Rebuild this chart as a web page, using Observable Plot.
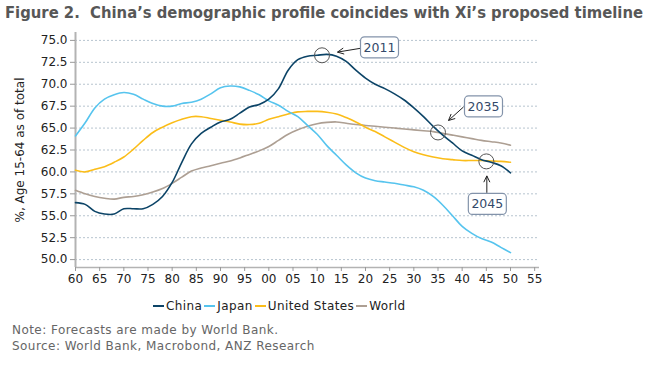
<!DOCTYPE html>
<html>
<head>
<meta charset="utf-8">
<script src="https://cdn.jsdelivr.net/npm/d3@7"></script>
<script src="https://cdn.jsdelivr.net/npm/@observablehq/plot@0.6"></script>
<style>
  body { margin: 0; background: #fff; font-family: "DejaVu Sans", Verdana, sans-serif; }
  #wrap { position: relative; width: 655px; height: 368px; overflow: hidden; background: #fff; }
  #title { position: absolute; left: 0; top: 0; }
  #chart { position: absolute; left: 0; top: 25px; }
  #legend { position: absolute; left: 153px; top: 298px; display: flex; align-items: center; font-size: 12px; color: #222; line-height: 16px; white-space: nowrap; letter-spacing: 0.4px; }
  .item { display: flex; align-items: center; margin-right: 2px; }
  .sw { width: 11px; height: 2px; margin-right: 2px; }
  #note { position: absolute; left: 12px; top: 322px; font-size: 12px; color: #666; line-height: 16px; letter-spacing: 0.45px; }
</style>
</head>
<body>
<div id="wrap">
  <svg id="title" width="655" height="25">
    <text x="5" y="18" style="white-space:pre" font-family="DejaVu Sans Condensed, DejaVu Sans, sans-serif" font-weight="bold" font-size="15" fill="#575757" textLength="638" lengthAdjust="spacingAndGlyphs">Figure 2.  China’s demographic profile coincides with Xi’s proposed timeline</text>
  </svg>
  <div id="chart"></div>
  <div id="legend"></div>
  <div id="note">Note: Forecasts are made by World Bank.<br>Source: World Bank, Macrobond, ANZ Research</div>
</div>
<script>
// ---------- data ----------
const years = [1960,1962,1964,1966,1968,1970,1972,1974,1976,1978,1980,1982,1984,1986,1988,1990,1992,1994,1996,1998,
               2000,2002,2004,2006,2008,2010,2012,2014,2016,2018,2020,2022,2024,2026,2028,2030,2032,2034,2036,2038,
               2040,2042,2044,2046,2048,2050];
const china = [56.5,56.3,55.5,55.2,55.2,55.8,55.8,55.8,56.3,57.2,58.8,61.1,63.2,64.4,65.1,65.7,66.0,66.7,67.4,67.7,
               68.3,69.5,71.6,72.8,73.2,73.3,73.4,73.2,72.6,71.6,70.7,70.0,69.5,68.9,68.2,67.3,66.3,65.2,64.2,63.3,
               62.4,61.9,61.4,61.1,60.7,59.9];
const japan = [64.1,65.6,67.3,68.3,68.8,69.05,68.85,68.3,67.8,67.5,67.5,67.8,67.95,68.3,68.9,69.6,69.8,69.7,69.3,68.8,
               68.1,67.6,66.9,66.3,65.3,64.3,63.0,61.9,60.8,59.9,59.3,59.0,58.85,58.7,58.5,58.3,57.9,57.2,56.2,55.0,
               53.8,53.0,52.4,52.0,51.4,50.8];
const us =    [60.2,60.0,60.3,60.6,61.1,61.7,62.6,63.6,64.5,65.1,65.6,66.0,66.3,66.3,66.1,65.9,65.7,65.45,65.4,65.55,
               66.0,66.3,66.6,66.85,66.9,66.9,66.8,66.6,66.2,65.7,65.1,64.6,64.0,63.4,62.8,62.3,61.95,61.7,61.5,61.4,
               61.3,61.3,61.3,61.25,61.2,61.1];
const world = [57.9,57.5,57.2,57.0,56.9,57.1,57.2,57.4,57.7,58.1,58.7,59.4,60.1,60.45,60.7,61.0,61.25,61.6,62.0,62.4,
               62.9,63.6,64.3,64.8,65.2,65.5,65.65,65.7,65.55,65.4,65.3,65.2,65.1,65.0,64.9,64.8,64.7,64.6,64.4,64.2,
               64.0,63.8,63.6,63.45,63.3,63.05];
const seriesNames = ["China", "Japan", "United States", "World"];
const yTicks = [50.0,52.5,55.0,57.5,60.0,62.5,65.0,67.5,70.0,72.5,75.0];
const xTicks = [1960,1965,1970,1975,1980,1985,1990,1995,2000,2005,2010,2015,2020,2025,2030,2035,2040,2045,2050,2055];
const xDomain = [1960, 2056];
const yDomain = [49.1, 75.9];
const annotYears = [2011, 2035, 2045];
const annotValues = [73.3, 64.5, 61.2];
const annotLabels = ["2011", "2035", "2045"];

// ---------- style ----------
const colors = {"China": "#0c4467", "Japan": "#56c4ee", "United States": "#fbbd19", "World": "#ad9f93"};
// pixel offsets (relative to circle centre) for annotation boxes and arrows
const boxOffset = [[58, -7.5], [46, -25.5], [1.5, 43]];
const arrowStart = [[39, -6.5], [26, -25], [1, 32]];
const arrowTip = [[16, -2.7], [11, -11.5], [1, 15]];

const series = {"China": china, "Japan": japan, "United States": us, "World": world};
const rows = seriesNames.flatMap(s => years.map((yr, i) => ({series: s, year: yr, value: series[s][i]})));
const annot = annotYears.map((yr, i) => ({year: yr, value: annotValues[i], label: annotLabels[i]}));

const drawOrder = ["World", "United States", "Japan", "China"];

const chart = Plot.plot({
  width: 655, height: 270,
  marginTop: 7, marginBottom: 28, marginLeft: 75, marginRight: 116,
  style: {fontFamily: "DejaVu Sans, Verdana, sans-serif", fontSize: "12px", color: "#222", background: "transparent"},
  x: {domain: xDomain},
  y: {domain: yDomain},
  marks: [
    Plot.gridY(yTicks, {stroke: "#b7c4cf", strokeOpacity: 1, strokeDasharray: "2,2"}),
    Plot.ruleX([xDomain[0]], {stroke: "#b3b3b3", strokeWidth: 2}),
    Plot.ruleY([yDomain[0]], {stroke: "#b3b3b3", strokeWidth: 1.5}),
    Plot.axisY(yTicks, {tickFormat: d3.format(".1f"), tickSize: 5, tickPadding: 3, stroke: "#999", fill: "#222",
      label: "%, Age 15-64 as of total", labelAnchor: "center", labelOffset: 60, labelArrow: false}),
    Plot.axisX(xTicks, {tickFormat: d => String(d % 100).padStart(2, "0"), tickSize: 4, tickPadding: 3,
      stroke: "#999", fill: "#222", label: null}),
    ...drawOrder.map(s => Plot.line(rows.filter(r => r.series === s),
      {x: "year", y: "value", stroke: colors[s], strokeWidth: 1.6, curve: "catmull-rom"})),
    Plot.dot(annot, {x: "year", y: "value", r: 7.5, stroke: "#555", strokeWidth: 1, fill: "none"})
  ]
});
document.getElementById("chart").appendChild(chart);

// annotation boxes + arrows, positioned through Plot's scales
const sx = chart.scale("x"), sy = chart.scale("y");
const g = d3.select(chart).append("g");
annot.forEach((a, i) => {
  const cx = sx.apply(a.year), cy = sy.apply(a.value);
  const x1 = cx + arrowStart[i][0], y1 = cy + arrowStart[i][1];
  const x2 = cx + arrowTip[i][0], y2 = cy + arrowTip[i][1];
  g.append("line").attr("x1", x1).attr("y1", y1).attr("x2", x2).attr("y2", y2)
    .attr("stroke", "#222").attr("stroke-width", 1);
  const ang = Math.atan2(y2 - y1, x2 - x1), L = 7, w = 0.45;
  g.append("path")
    .attr("d", `M${x2 - L * Math.cos(ang - w)},${y2 - L * Math.sin(ang - w)}L${x2},${y2}L${x2 - L * Math.cos(ang + w)},${y2 - L * Math.sin(ang + w)}`)
    .attr("fill", "none").attr("stroke", "#222").attr("stroke-width", 1);
  const bx = cx + boxOffset[i][0], by = cy + boxOffset[i][1];
  g.append("rect").attr("x", bx - 19).attr("y", by - 10.5).attr("width", 38).attr("height", 21).attr("rx", 4)
    .attr("fill", "#fff").attr("stroke", "#8393aa").attr("stroke-width", 1.2);
  g.append("text").attr("x", bx).attr("y", by).attr("dy", "0.36em").attr("text-anchor", "middle")
    .attr("font-size", 12.5).attr("fill", "#34496a").text(a.label);
});

// legend
const leg = document.getElementById("legend");
seriesNames.forEach(s => {
  const it = document.createElement("div"); it.className = "item";
  const sw = document.createElement("div"); sw.className = "sw"; sw.style.background = colors[s];
  const tx = document.createElement("span"); tx.textContent = s;
  it.appendChild(sw); it.appendChild(tx); leg.appendChild(it);
});
</script>
</body>
</html>
